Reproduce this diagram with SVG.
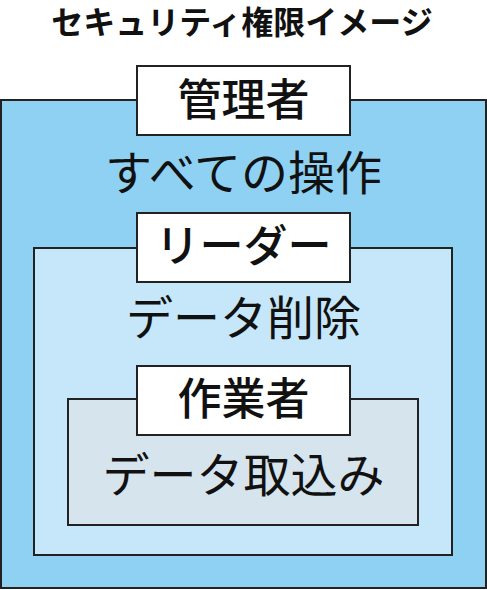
<svg xmlns="http://www.w3.org/2000/svg" width="487" height="590" viewBox="0 0 487 590">
<style>
text{font-family:"Noto Sans CJK JP","Noto Sans",sans-serif;fill:#111;text-anchor:middle}
.box{stroke:#222;stroke-width:2}
.lbl{fill:#fff;stroke:#222;stroke-width:2}
.t{font-size:47px;font-weight:400}
.h{font-size:44px;font-weight:500}
</style>
<rect width="487" height="590" fill="#fff"/>
<text x="242" y="34" style="font-size:32px;font-weight:700">セキュリティ権限イメージ</text>
<g id="admin">
<rect class="box" x="1" y="100" width="485" height="488" fill="#8ED1F3"/>
<rect class="lbl" x="137" y="66" width="213" height="69"/>
<text class="h" x="243.5" y="116">管理者</text>
<text class="t" x="243.5" y="190">すべての操作</text>
</g>
<g id="leader">
<rect class="box" x="34" y="248" width="418" height="307" fill="#C6E7F9"/>
<rect class="lbl" x="137" y="213" width="213" height="69"/>
<text class="h" x="243.5" y="262">リーダー</text>
<text class="t" x="243.5" y="335">データ削除</text>
</g>
<g id="worker">
<rect class="box" x="68" y="399" width="350" height="126" fill="#D6E4EE"/>
<rect class="lbl" x="137" y="366" width="213" height="69"/>
<text class="h" x="243.5" y="415">作業者</text>
<text class="t" x="243.5" y="492">データ取込み</text>
</g>
<g id="connectors"/>
</svg>
